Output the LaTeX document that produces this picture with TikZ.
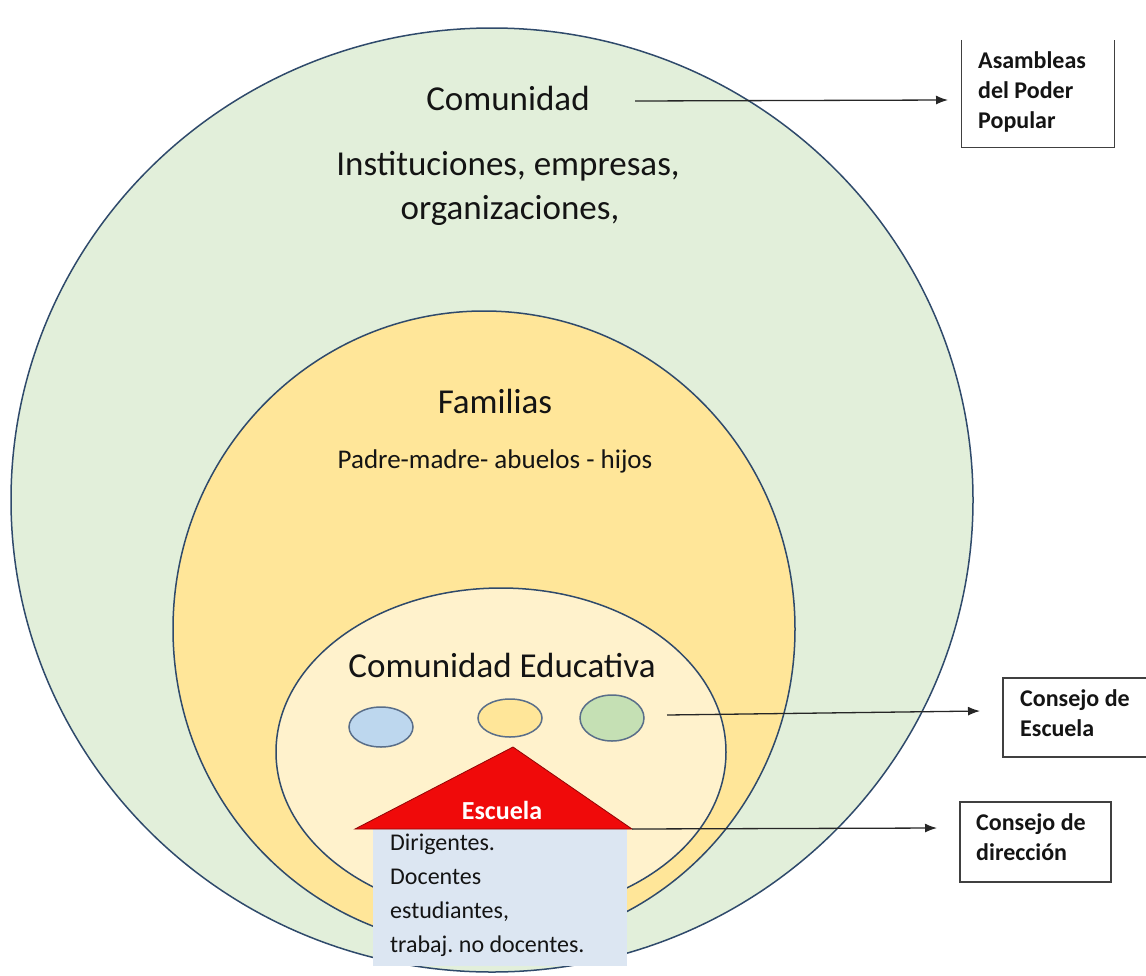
\documentclass[tikz,border=0pt]{standalone}
\usepackage{fontspec}
\setmainfont{Carlito}
\usetikzlibrary{arrows.meta}
\definecolor{comfill}{HTML}{E2EFDA}
\definecolor{famfill}{HTML}{FFE699}
\definecolor{edufill}{HTML}{FFF2CC}
\definecolor{ringline}{HTML}{2F4A6B}
\definecolor{bluedot}{HTML}{BDD7EE}
\definecolor{greendot}{HTML}{C5E0B4}
\definecolor{roofred}{HTML}{F00A0A}
\definecolor{schoolfill}{HTML}{DCE6F2}
\definecolor{ink}{HTML}{141414}
\begin{document}
\begin{tikzpicture}[x=1pt, y=-1pt,
  ring/.style={draw=ringline, line width=1.5pt},
  dot/.style={draw=ringline!80, line width=1.5pt},
  title/.style={font=\fontsize{35}{42}\selectfont, text=ink, anchor=base, inner sep=0pt},
  subtitle/.style={font=\fontsize{27}{32}\selectfont, text=ink, anchor=base, inner sep=0pt},
  boxtext/.style={font=\bfseries\fontsize{24}{30}\selectfont, text=ink, align=left, anchor=base west, inner sep=0pt},
  panel/.style={draw=black!75, line width=1.2pt},
  arrow/.style={-{Latex[length=12pt, width=9pt]}, line width=1.3pt, draw=black!85}
]
\useasboundingbox (0,0) rectangle (1146,975);
\clip (0,0) rectangle (1146,975);
% rings
\draw[ring, fill=comfill] (492,500) ellipse [x radius=481, y radius=472];
\draw[ring, fill=famfill] (484,629) ellipse [x radius=311, y radius=318];
\draw[ring, fill=edufill] (501,752) ellipse [x radius=225, y radius=164];
% members of the school council
\draw[dot, fill=bluedot] (381,727) ellipse [x radius=32, y radius=20];
\draw[dot, fill=famfill] (510,718) ellipse [x radius=32, y radius=19];
\draw[dot, fill=greendot] (612,718) ellipse [x radius=32, y radius=23];
% school
\fill[schoolfill] (373,829) rectangle (627,966);
\coordinate (roofL) at (355,829);
\coordinate (roofR) at (632,829);
\coordinate (roofT) at (513,747);
\filldraw[fill=roofred, draw=roofred!60!black, line width=0.8pt] (roofL) -- (roofT) -- (roofR) -- cycle;
% texts
\node[title] (com) at (508,110) {Comunidad};
\node[title] (inst) at (508,175) {Instituciones, empresas,};
\node[title] (org) at (510,219) {organizaciones,};
\node[title] (fam) at (495,413) {Familias};
\node[subtitle] (padres) at (495,468) {Padre-madre- abuelos - hijos};
\node[title] (edu) at (502,677) {Comunidad Educativa};
\node[font=\bfseries\fontsize{26}{30}\selectfont, text=white, anchor=base, inner sep=0pt] (esc) at (502,819) {Escuela};
\node[font=\fontsize{24}{34}\selectfont, text=ink, align=left, anchor=base west, inner sep=0pt] (miembros) at (390,952) {Dirigentes.\\Docentes\\estudiantes,\\trabaj.\ no docentes.};
% boxes
\node[minimum width=152pt, minimum height=107pt] (asam) at (1038,93.5) {};
\draw[panel] (asam.north west) -- (asam.south west) -- (asam.south east) -- (asam.north east);
\node[boxtext] (asamtxt) at (978,128) {Asambleas\\del Poder\\Popular};
\node[panel, minimum width=147pt, minimum height=79pt] (cescuela) at (1076.5,717.5) {};
\node[boxtext] (cescuelatxt) at (1020,736) {Consejo de\\Escuela};
\node[panel, minimum width=151pt, minimum height=80pt] (cdir) at (1035.5,842) {};
\node[boxtext] (cdirtxt) at (976,860) {Consejo de\\dirección};
% arrows
\coordinate (comstart) at (635,101);
\coordinate (comtip) at (948,100);
\coordinate (edustart) at (667,715);
\coordinate (edutip) at (980,711);
\coordinate (dirtip) at (937,828);
\draw[arrow] (comstart) -- (comtip);
\draw[arrow] (edustart) -- (edutip);
\draw[arrow] (roofR) -- (dirtip);
\end{tikzpicture}
\end{document}
